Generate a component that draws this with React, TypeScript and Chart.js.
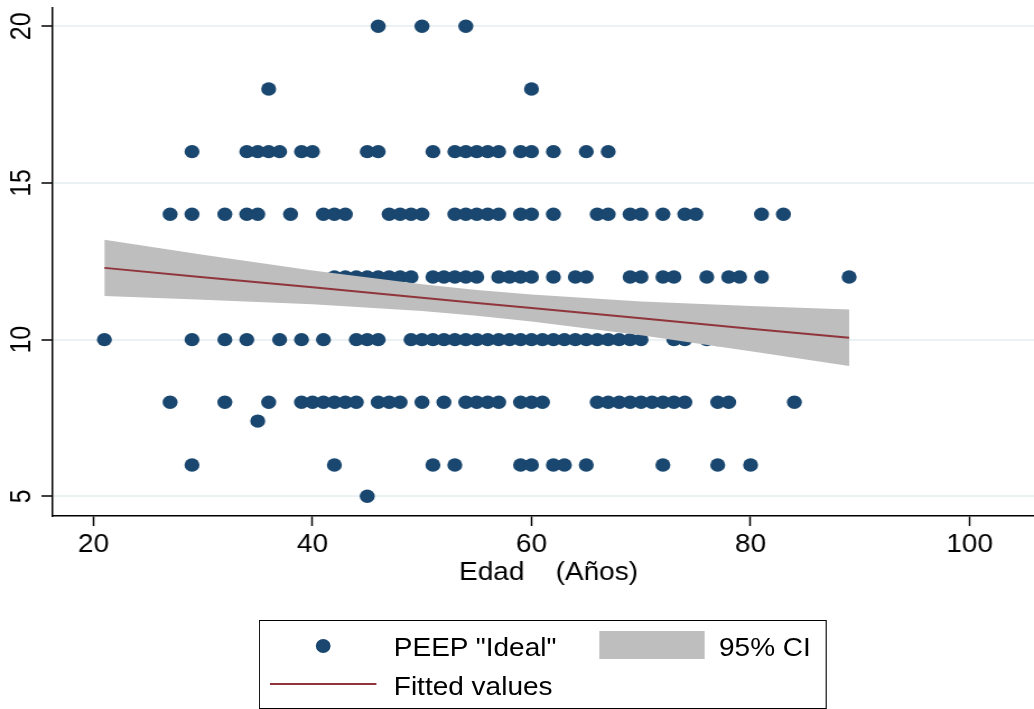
import React, { useEffect, useRef } from 'react';
import { Chart, registerables } from 'chart.js';
Chart.register(...registerables);

// ---- data ----
const peepLevels = [20, 18, 16, 14, 12, 10, 8, 7.4, 6, 5];
const ages20 = [46, 50, 54];
const ages18 = [36, 60];
const ages16 = [29, 34, 35, 36, 37, 39, 40, 45, 46, 51, 53, 54, 55, 56, 57, 59, 60, 62, 65, 67];
const ages14 = [27, 29, 32, 34, 35, 38, 41, 42, 43, 47, 48, 49, 50, 53, 54, 55, 56, 57, 59, 60, 62, 66, 67, 69, 70, 72, 74, 75, 81, 83];
const ages12 = [42, 43, 44, 45, 46, 47, 48, 49, 51, 52, 53, 54, 55, 57, 58, 59, 60, 62, 64, 65, 69, 70, 72, 73, 76, 78, 79, 81, 89];
const ages10 = [21, 29, 32, 34, 37, 39, 41, 44, 45, 46, 49, 50, 51, 52, 53, 54, 55, 56, 57, 58, 59, 60, 61, 62, 63, 64, 65, 66, 67, 68, 69, 70, 73, 74, 76, 77];
const ages8 = [27, 32, 36, 39, 40, 41, 42, 43, 44, 46, 47, 48, 50, 52, 54, 55, 56, 57, 59, 60, 61, 66, 67, 68, 69, 70, 71, 72, 73, 74, 77, 78, 84];
const ages7 = [35];
const ages6 = [29, 42, 51, 53, 59, 60, 62, 63, 65, 72, 77, 80];
const ages5 = [45];
const agesByLevel = [ages20, ages18, ages16, ages14, ages12, ages10, ages8, ages7, ages6, ages5];

const fitAges = [21, 30, 40, 50, 55, 60, 70, 80, 89];
const fitted = [12.29, 11.99, 11.67, 11.34, 11.17, 11.01, 10.68, 10.35, 10.06];
const ciUpper = [13.19, 12.71, 12.21, 11.77, 11.58, 11.44, 11.22, 11.07, 10.96];
const ciLower = [11.39, 11.27, 11.13, 10.91, 10.76, 10.58, 10.14, 9.63, 9.16];

const xTicks = [20, 40, 60, 80, 100];
const yTicks = [5, 10, 15, 20];
const xTitle = 'Edad    (Años)';
const seriesLabels = ['PEEP "Ideal"', '95% CI', 'Fitted values'];

// ---- styling ----
const FONT = "'Liberation Sans', Arial, Helvetica, sans-serif";
const NAVY = '#1A476F';
const MAROON = '#90353B';
const CI_GREY = '#BEBEBE';
const GRID = '#EAF2F3';
const W = 923;
const H = 709;
const STRETCH = 1034 / W;

const textPlugin = {
  id: 'stataText',
  afterDraw(chart: any) {
    const { ctx } = chart;
    const y = chart.scales.y;
    const x = chart.scales.x;
    ctx.save();
    ctx.fillStyle = '#000';
    ctx.font = `25px ${FONT}`;
    ctx.textAlign = 'center';
    ctx.textBaseline = 'middle';
    yTicks.forEach((v) => {
      const py = y.getPixelForValue(v);
      ctx.save();
      ctx.translate(20.5, py);
      ctx.rotate(-Math.PI / 2);
      ctx.fillText(String(v), 0, 0);
      ctx.restore();
    });
    ctx.fillText(xTitle, x.getPixelForValue(61.55), 573);
    ctx.restore();
  },
};

export default function App() {
  const ref = useRef<HTMLCanvasElement | null>(null);
  useEffect(() => {
    if (!ref.current) return;
    const scatterPts: { x: number; y: number }[] = [];
    agesByLevel.forEach((ages, i) => ages.forEach((a) => scatterPts.push({ x: a, y: peepLevels[i] })));
    const chart = new Chart(ref.current, {
      type: 'scatter',
      data: {
        datasets: [
          {
            type: 'line',
            label: seriesLabels[2],
            data: fitAges.map((a, i) => ({ x: a, y: fitted[i] })),
            borderColor: MAROON,
            borderWidth: 2,
            pointRadius: 0,
            fill: false,
            tension: 0,
          } as any,
          {
            type: 'line',
            label: seriesLabels[1],
            data: fitAges.map((a, i) => ({ x: a, y: ciUpper[i] })),
            borderColor: 'rgba(0,0,0,0)',
            borderWidth: 1,
            backgroundColor: CI_GREY,
            pointRadius: 0,
            fill: '+1',
            tension: 0,
          } as any,
          {
            type: 'line',
            label: 'ci-lower',
            data: fitAges.map((a, i) => ({ x: a, y: ciLower[i] })),
            borderColor: 'rgba(0,0,0,0)',
            borderWidth: 1,
            pointRadius: 0,
            fill: false,
            tension: 0,
          } as any,
          {
            type: 'scatter',
            label: seriesLabels[0],
            data: scatterPts,
            backgroundColor: NAVY,
            borderColor: NAVY,
            borderWidth: 0,
            pointRadius: 6.7,
            pointHoverRadius: 6.7,
          } as any,
        ],
      },
      options: {
        responsive: false,
        animation: false,
        devicePixelRatio: 1,
        layout: { autoPadding: false, padding: { top: 8, left: 0, right: 0, bottom: 0 } },
        plugins: { legend: { display: false }, tooltip: { enabled: false } },
        scales: {
          x: {
            type: 'linear',
            min: 16.277,
            max: 105.88,
            afterBuildTicks: (s: any) => {
              s.ticks = xTicks.map((v) => ({ value: v }));
            },
            afterFit: (s: any) => {
              s.height = H - 516;
              s.paddingLeft = 0;
              s.paddingRight = 0;
            },
            grid: {
              drawOnChartArea: false,
              drawTicks: true,
              tickLength: 10,
              tickColor: '#000',
              tickWidth: 1.5,
            },
            border: { display: true, color: '#000', width: 1.5 },
            ticks: {
              font: { family: FONT, size: 25 },
              color: '#000',
              padding: 4,
              maxRotation: 0,
              minRotation: 0,
              autoSkip: false,
            },
          },
          y: {
            type: 'linear',
            min: 4.371,
            max: 20.584,
            afterBuildTicks: (s: any) => {
              s.ticks = yTicks.map((v) => ({ value: v }));
            },
            afterFit: (s: any) => {
              s.width = 47;
              s.paddingTop = 0;
              s.paddingBottom = 0;
            },
            grid: {
              color: GRID,
              lineWidth: 2,
              drawTicks: true,
              tickLength: 10,
              tickColor: '#000',
              tickWidth: 1.5,
            },
            border: { display: true, color: '#000', width: 1.5 },
            ticks: { display: false },
          },
        },
      } as any,
      plugins: [textPlugin],
    });
    return () => chart.destroy();
  }, []);

  const txt: React.CSSProperties = {
    position: 'absolute',
    fontFamily: FONT,
    fontSize: '25px',
    lineHeight: '30px',
    color: '#000',
    whiteSpace: 'pre',
  };

  return (
    <div style={{ position: 'absolute', left: 0, top: 0, width: 1034, height: 709, overflow: 'hidden', background: '#fff' }}>
      <div style={{ position: 'relative', width: W, height: H, transform: `scaleX(${STRETCH})`, transformOrigin: '0 0' }}>
        <canvas ref={ref} width={W} height={H} style={{ display: 'block', width: W + 'px', height: H + 'px' }} />
        <div style={{ position: 'absolute', left: 231, top: 620, width: 507, height: 89, border: '1.5px solid #000', boxSizing: 'border-box' }} />
        <div style={{ position: 'absolute', left: 281.7, top: 639.3, width: 13.4, height: 13.4, borderRadius: '50%', background: NAVY }} />
        <div style={{ ...txt, left: 351.5, top: 632 }}>{seriesLabels[0]}</div>
        <div style={{ position: 'absolute', left: 534.6, top: 631, width: 94, height: 28, background: CI_GREY }} />
        <div style={{ ...txt, left: 641.8, top: 632 }}>{seriesLabels[1]}</div>
        <div style={{ position: 'absolute', left: 241.4, top: 682.8, width: 94.2, height: 2.5, background: MAROON }} />
        <div style={{ ...txt, left: 351.5, top: 671 }}>{seriesLabels[2]}</div>
      </div>
    </div>
  );
}
